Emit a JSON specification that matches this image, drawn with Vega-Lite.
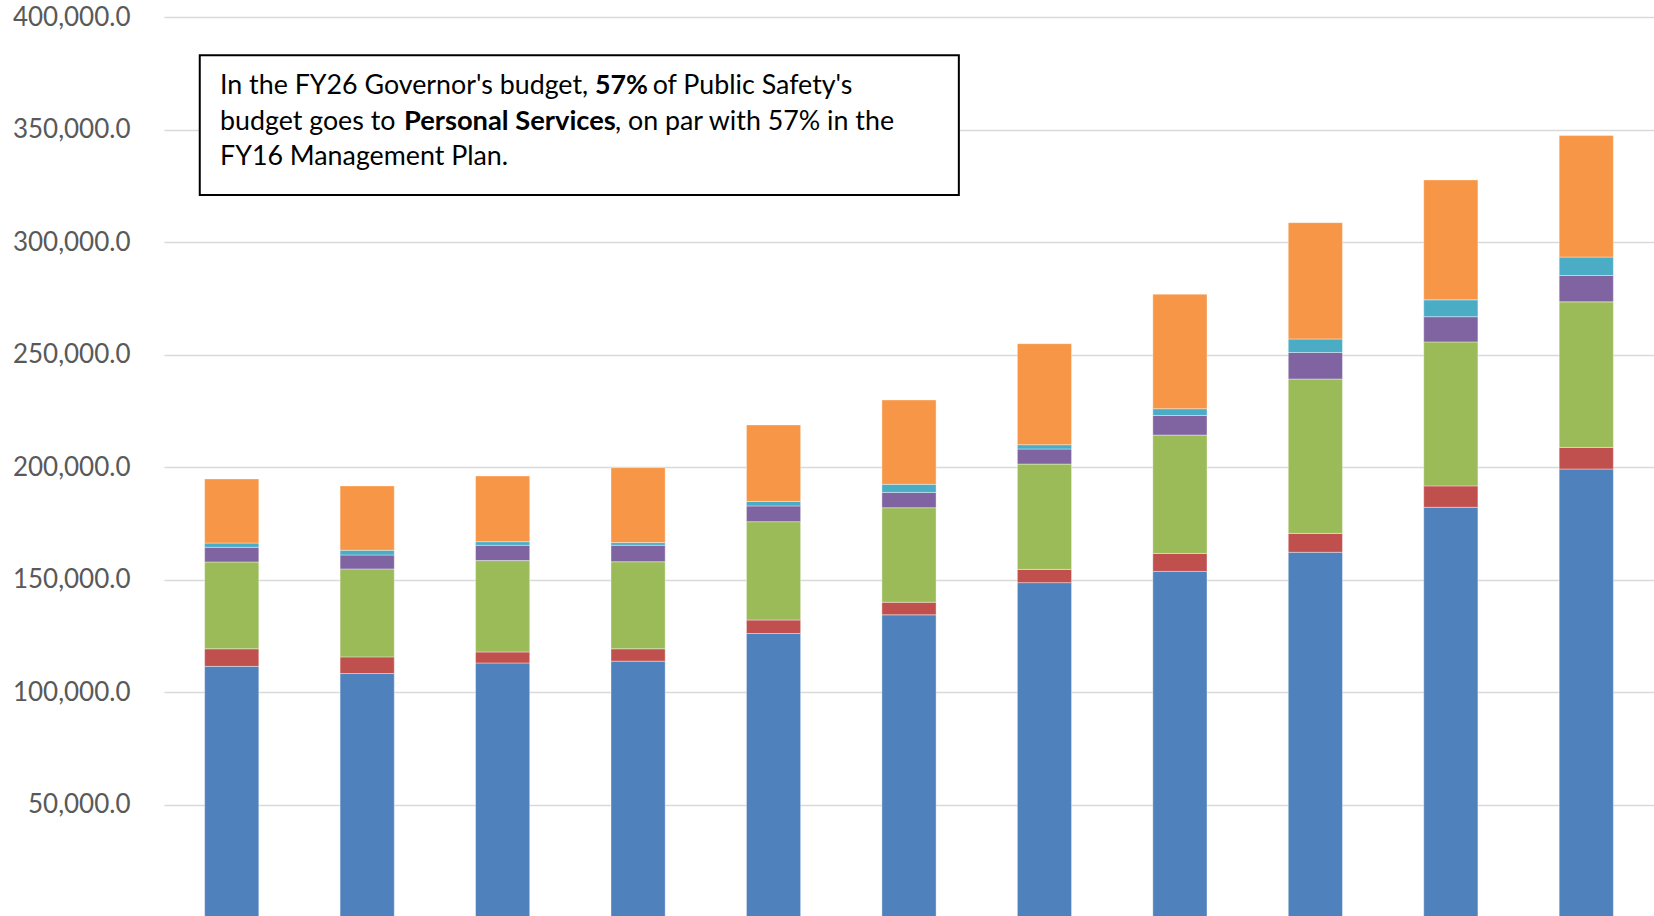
{
  "$schema": "https://vega.github.io/schema/vega-lite/v6.json",
  "autosize": "none",
  "width": 1490,
  "height": 900,
  "padding": {"left": 164, "top": 17, "right": 0, "bottom": 0},
  "background": "white",
  "config": {"view": {"stroke": null}},
  "layer": [
    {
      "data": {"values": [
        {"year": "FY16", "category": "Personal Services", "amount": 111400},
        {"year": "FY16", "category": "Travel", "amount": 7800},
        {"year": "FY16", "category": "Services", "amount": 38600},
        {"year": "FY16", "category": "Commodities", "amount": 6500},
        {"year": "FY16", "category": "Capital Outlay", "amount": 1900},
        {"year": "FY16", "category": "Grants, Benefits", "amount": 28500},
        {"year": "FY17", "category": "Personal Services", "amount": 108200},
        {"year": "FY17", "category": "Travel", "amount": 7400},
        {"year": "FY17", "category": "Services", "amount": 39100},
        {"year": "FY17", "category": "Commodities", "amount": 6200},
        {"year": "FY17", "category": "Capital Outlay", "amount": 2100},
        {"year": "FY17", "category": "Grants, Benefits", "amount": 28600},
        {"year": "FY18", "category": "Personal Services", "amount": 112900},
        {"year": "FY18", "category": "Travel", "amount": 4900},
        {"year": "FY18", "category": "Services", "amount": 40600},
        {"year": "FY18", "category": "Commodities", "amount": 6800},
        {"year": "FY18", "category": "Capital Outlay", "amount": 1600},
        {"year": "FY18", "category": "Grants, Benefits", "amount": 29200},
        {"year": "FY19", "category": "Personal Services", "amount": 113700},
        {"year": "FY19", "category": "Travel", "amount": 5500},
        {"year": "FY19", "category": "Services", "amount": 38700},
        {"year": "FY19", "category": "Commodities", "amount": 7300},
        {"year": "FY19", "category": "Capital Outlay", "amount": 1200},
        {"year": "FY19", "category": "Grants, Benefits", "amount": 33300},
        {"year": "FY20", "category": "Personal Services", "amount": 126000},
        {"year": "FY20", "category": "Travel", "amount": 6000},
        {"year": "FY20", "category": "Services", "amount": 43700},
        {"year": "FY20", "category": "Commodities", "amount": 7000},
        {"year": "FY20", "category": "Capital Outlay", "amount": 2000},
        {"year": "FY20", "category": "Grants, Benefits", "amount": 34000},
        {"year": "FY21", "category": "Personal Services", "amount": 134300},
        {"year": "FY21", "category": "Travel", "amount": 5600},
        {"year": "FY21", "category": "Services", "amount": 42000},
        {"year": "FY21", "category": "Commodities", "amount": 6800},
        {"year": "FY21", "category": "Capital Outlay", "amount": 3600},
        {"year": "FY21", "category": "Grants, Benefits", "amount": 37500},
        {"year": "FY22", "category": "Personal Services", "amount": 148600},
        {"year": "FY22", "category": "Travel", "amount": 5900},
        {"year": "FY22", "category": "Services", "amount": 46800},
        {"year": "FY22", "category": "Commodities", "amount": 6700},
        {"year": "FY22", "category": "Capital Outlay", "amount": 1900},
        {"year": "FY22", "category": "Grants, Benefits", "amount": 44900},
        {"year": "FY23", "category": "Personal Services", "amount": 153600},
        {"year": "FY23", "category": "Travel", "amount": 8000},
        {"year": "FY23", "category": "Services", "amount": 52600},
        {"year": "FY23", "category": "Commodities", "amount": 8700},
        {"year": "FY23", "category": "Capital Outlay", "amount": 3000},
        {"year": "FY23", "category": "Grants, Benefits", "amount": 50900},
        {"year": "FY24", "category": "Personal Services", "amount": 162100},
        {"year": "FY24", "category": "Travel", "amount": 8400},
        {"year": "FY24", "category": "Services", "amount": 68600},
        {"year": "FY24", "category": "Commodities", "amount": 11800},
        {"year": "FY24", "category": "Capital Outlay", "amount": 6000},
        {"year": "FY24", "category": "Grants, Benefits", "amount": 51700},
        {"year": "FY25", "category": "Personal Services", "amount": 182100},
        {"year": "FY25", "category": "Travel", "amount": 9500},
        {"year": "FY25", "category": "Services", "amount": 64000},
        {"year": "FY25", "category": "Commodities", "amount": 11200},
        {"year": "FY25", "category": "Capital Outlay", "amount": 7500},
        {"year": "FY25", "category": "Grants, Benefits", "amount": 53300},
        {"year": "FY26", "category": "Personal Services", "amount": 199100},
        {"year": "FY26", "category": "Travel", "amount": 9600},
        {"year": "FY26", "category": "Services", "amount": 64700},
        {"year": "FY26", "category": "Commodities", "amount": 11700},
        {"year": "FY26", "category": "Capital Outlay", "amount": 8200},
        {"year": "FY26", "category": "Grants, Benefits", "amount": 54000}
      ]},
      "transform": [
        {"calculate": "indexof(['Personal Services', 'Travel', 'Services', 'Commodities', 'Capital Outlay', 'Grants, Benefits'], datum.category)", "as": "stackOrder"}
      ],
      "mark": {"type": "bar", "stroke": "#ffffff", "strokeWidth": 0.75, "strokeOpacity": 0.5},
      "encoding": {
        "x": {"field": "year", "type": "nominal", "sort": null, "axis": null,
              "scale": {"paddingInner": 0.6, "paddingOuter": 0.3}},
        "y": {"field": "amount", "type": "quantitative", "stack": "zero",
              "scale": {"domain": [0, 400000], "nice": false, "zero": true},
              "axis": {"title": null, "format": ",.1f", "values": [50000, 100000, 150000, 200000, 250000, 300000, 350000, 400000],
                       "labelFont": "Lato", "labelFontSize": 26, "labelColor": "#595959", "labelPadding": 34,
                       "ticks": false, "domain": false, "grid": true, "gridColor": "#D9D9D9", "gridWidth": 1.5}},
        "color": {"field": "category", "type": "nominal",
                  "scale": {"domain": ["Personal Services", "Travel", "Services", "Commodities", "Capital Outlay", "Grants, Benefits"],
                            "range": ["#4F81BD", "#C0504D", "#9BBB59", "#8064A2", "#4BACC6", "#F79646"]},
                  "legend": null},
        "order": {"field": "stackOrder", "type": "quantitative", "sort": "ascending"}
      }
    },
    {
      "data": {"values": [{}]},
      "mark": {"type": "rect", "fill": "white", "stroke": "#000000", "strokeWidth": 2},
      "encoding": {
        "x": {"datum": "FY16", "type": "nominal", "bandPosition": -0.09},
        "x2": {"datum": "FY16", "bandPosition": 13.92},
        "y": {"datum": 383000, "type": "quantitative"},
        "y2": {"datum": 320900}
      }
    },
    {
      "data": {"values": [{}]},
      "mark": {"type": "text", "text": "In the FY26 Governor's budget,", "align": "left", "baseline": "alphabetic", "font": "Lato", "fontSize": 26.8, "color": "#000000"},
      "encoding": {"x": {"datum": "FY16", "type": "nominal", "bandPosition": 0.2836}, "y": {"datum": 365778, "type": "quantitative"}}
    },
    {
      "data": {"values": [{}]},
      "mark": {"type": "text", "text": "57%", "align": "left", "baseline": "alphabetic", "font": "Lato", "fontSize": 26.8, "fontWeight": "bold", "color": "#000000"},
      "encoding": {"x": {"datum": "FY16", "type": "nominal", "bandPosition": 7.2047}, "y": {"datum": 365778, "type": "quantitative"}}
    },
    {
      "data": {"values": [{}]},
      "mark": {"type": "text", "text": "of Public Safety's", "align": "left", "baseline": "alphabetic", "font": "Lato", "fontSize": 26.8, "color": "#000000"},
      "encoding": {"x": {"datum": "FY16", "type": "nominal", "bandPosition": 8.2697}, "y": {"datum": 365778, "type": "quantitative"}}
    },
    {
      "data": {"values": [{}]},
      "mark": {"type": "text", "text": "budget goes to", "align": "left", "baseline": "alphabetic", "font": "Lato", "fontSize": 26.8, "color": "#000000"},
      "encoding": {"x": {"datum": "FY16", "type": "nominal", "bandPosition": 0.2836}, "y": {"datum": 350000, "type": "quantitative"}}
    },
    {
      "data": {"values": [{}]},
      "mark": {"type": "text", "text": "Personal Services", "align": "left", "baseline": "alphabetic", "font": "Lato", "fontSize": 27.3, "fontWeight": "bold", "color": "#000000"},
      "encoding": {"x": {"datum": "FY16", "type": "nominal", "bandPosition": 3.679}, "y": {"datum": 350000, "type": "quantitative"}}
    },
    {
      "data": {"values": [{}]},
      "mark": {"type": "text", "text": ", on par with 57% in the", "align": "left", "baseline": "alphabetic", "font": "Lato", "fontSize": 26.8, "color": "#000000"},
      "encoding": {"x": {"datum": "FY16", "type": "nominal", "bandPosition": 7.574}, "y": {"datum": 350000, "type": "quantitative"}}
    },
    {
      "data": {"values": [{}]},
      "mark": {"type": "text", "text": "FY16 Management Plan.", "align": "left", "baseline": "alphabetic", "font": "Lato", "fontSize": 26.8, "color": "#000000"},
      "encoding": {"x": {"datum": "FY16", "type": "nominal", "bandPosition": 0.2836}, "y": {"datum": 334222, "type": "quantitative"}}
    }
  ]
}
